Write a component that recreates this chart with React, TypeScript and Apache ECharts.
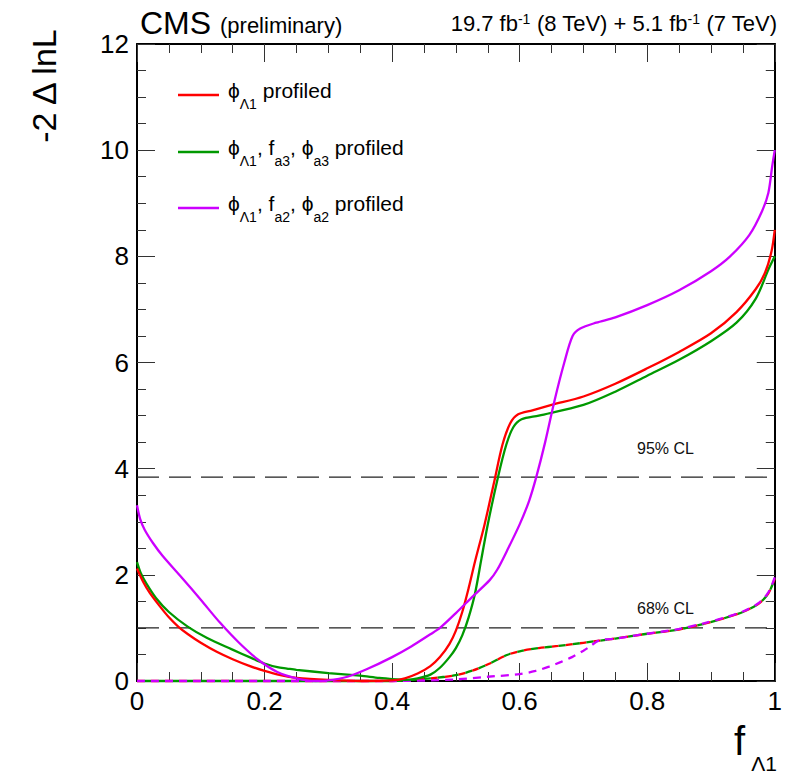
import React, { useEffect, useRef } from 'react';
import * as echarts from 'echarts';

// x = f_Λ1, y = -2 Δ lnL
const redSolid: [number, number][] = [
  [0, 2.12], [0.01, 1.86], [0.02, 1.66], [0.035, 1.42], [0.05, 1.2], [0.065, 1.02], [0.08, 0.88],
  [0.1, 0.72], [0.125, 0.55], [0.15, 0.41], [0.175, 0.29], [0.2, 0.19], [0.225, 0.11], [0.25, 0.06],
  [0.3, 0.02], [0.35, 0.0], [0.4, 0.01], [0.42, 0.05], [0.44, 0.14], [0.46, 0.28], [0.475, 0.45],
  [0.49, 0.7], [0.5, 0.95], [0.51, 1.3], [0.52, 1.75], [0.53, 2.25], [0.545, 2.95], [0.56, 3.75],
  [0.573, 4.45], [0.585, 4.85], [0.597, 5.02], [0.62, 5.1], [0.65, 5.2], [0.7, 5.36], [0.75, 5.6],
  [0.8, 5.89], [0.85, 6.2], [0.9, 6.55], [0.94, 6.95], [0.97, 7.38], [0.985, 7.7], [0.995, 8.1], [1.0, 8.5],
];
const greenSolid: [number, number][] = [
  [0, 2.24], [0.006, 2.03], [0.015, 1.83], [0.03, 1.56], [0.05, 1.3], [0.08, 1.02], [0.11, 0.81],
  [0.148, 0.6], [0.18, 0.43], [0.2, 0.33], [0.22, 0.26], [0.235, 0.235], [0.25, 0.21], [0.3, 0.15],
  [0.35, 0.1], [0.38, 0.06], [0.42, 0.02], [0.44, 0.05], [0.46, 0.12], [0.475, 0.25], [0.49, 0.45],
  [0.5, 0.62], [0.51, 0.86], [0.52, 1.2], [0.53, 1.65], [0.54, 2.3], [0.55, 2.95], [0.566, 3.84],
  [0.579, 4.45], [0.59, 4.78], [0.603, 4.93], [0.63, 5.0], [0.7, 5.2], [0.75, 5.45], [0.8, 5.75],
  [0.85, 6.05], [0.9, 6.4], [0.94, 6.75], [0.97, 7.2], [0.99, 7.75], [1.0, 8.0],
];
const magentaSolid: [number, number][] = [
  [0, 3.31], [0.005, 3.05], [0.012, 2.85], [0.025, 2.6], [0.04, 2.36], [0.07, 1.95], [0.1, 1.53],
  [0.13, 1.1], [0.16, 0.72], [0.19, 0.4], [0.22, 0.17], [0.25, 0.05], [0.28, 0.0], [0.3, 0.01],
  [0.33, 0.08], [0.36, 0.22], [0.4, 0.45], [0.43, 0.65], [0.46, 0.88], [0.475, 1.0], [0.5, 1.28],
  [0.527, 1.6], [0.553, 1.9], [0.565, 2.1], [0.58, 2.45], [0.6, 2.95], [0.615, 3.4], [0.626, 3.84],
  [0.64, 4.5], [0.655, 5.3], [0.67, 6.0], [0.683, 6.5], [0.695, 6.64], [0.72, 6.75], [0.75, 6.85],
  [0.8, 7.08], [0.85, 7.36], [0.9, 7.72], [0.93, 8.0], [0.96, 8.4], [0.98, 8.85], [0.99, 9.2],
  [0.996, 9.7], [1.0, 10.0],
];
const redGreenDashed: [number, number][] = [
  [0, 0], [0.1, 0], [0.2, 0], [0.3, 0], [0.4, 0.0], [0.43, 0.02], [0.46, 0.05], [0.5, 0.11],
  [0.527, 0.2], [0.553, 0.33], [0.58, 0.49], [0.6, 0.56], [0.63, 0.62], [0.66, 0.66], [0.7, 0.72],
  [0.75, 0.8], [0.8, 0.89], [0.85, 0.97], [0.89, 1.08], [0.92, 1.18], [0.95, 1.3], [0.975, 1.46],
  [0.99, 1.65], [1.0, 1.93],
];
const magentaDashed: [number, number][] = [
  [0, 0], [0.1, 0], [0.2, 0], [0.3, 0], [0.4, 0], [0.5, 0.03], [0.55, 0.08], [0.6, 0.13],
  [0.625, 0.19], [0.646, 0.27], [0.665, 0.36], [0.682, 0.45], [0.7, 0.57], [0.709, 0.64],
  [0.724, 0.76], [0.75, 0.8], [0.8, 0.89], [0.85, 0.98], [0.89, 1.09], [0.92, 1.19], [0.95, 1.31],
  [0.975, 1.47], [0.99, 1.67], [1.0, 1.95],
];
const clLevels = [3.84, 1.0];
const clLabels = ['95% CL', '68% CL'];

const RED = '#ff0000';
const GREEN = '#009900';
const MAGENTA = '#cc00ff';
const FONT = "'Liberation Sans', Arial, Helvetica, sans-serif";

export default function App() {
  const ref = useRef<HTMLDivElement>(null);
  useEffect(() => {
    const chart = echarts.init(ref.current!, null, { renderer: 'svg' });

    const axisCommon = (show: boolean, margin: number) => ({
      axisLine: { show: true, onZero: false, lineStyle: { color: '#000', width: 2 } },
      axisTick: { show: true, inside: true, length: 18, lineStyle: { color: '#333', width: 1 } },
      minorTick: { show: true, splitNumber: 4, length: 9, lineStyle: { color: '#333', width: 1 } },
      splitLine: { show: false },
      minorSplitLine: { show: false },
      axisLabel: { show, fontSize: 26, color: '#000', fontFamily: FONT, margin },
    });

    const curve = (name: string, data: [number, number][], color: string, z: number, dash?: any, offset?: number) => ({
      type: 'line',
      name,
      data,
      symbol: 'none',
      smooth: 0.3,
      clip: false,
      z,
      lineStyle: { color, width: 2.3, type: dash || 'solid', dashOffset: offset || 0 },
    });

    const refLine = (lv: number) => ({
      type: 'line',
      data: [[0, lv], [1, lv]],
      symbol: 'none',
      z: 1,
      lineStyle: { color: '#222', width: 1.2, type: [22, 10] },
    });

    const m = { fontSize: 21, lineHeight: 24, verticalAlign: 'top', fontFamily: FONT, fill: '#000' };
    const s = { fontSize: 14, lineHeight: 14, padding: [17, 0, 0, 0], verticalAlign: 'top', fontFamily: FONT, fill: '#000' };

    const legendRows = [
      { color: RED, text: '{m|ϕ}{s|Λ1}{m| profiled}' },
      { color: GREEN, text: '{m|ϕ}{s|Λ1}{m|, f}{s|a3}{m|, ϕ}{s|a3}{m| profiled}' },
      { color: MAGENTA, text: '{m|ϕ}{s|Λ1}{m|, f}{s|a2}{m|, ϕ}{s|a2}{m| profiled}' },
    ];
    const rowY = [95, 152, 208];

    const graphics: any[] = [];
    legendRows.forEach((r, i) => {
      graphics.push({
        type: 'line',
        shape: { x1: 178, y1: rowY[i], x2: 219, y2: rowY[i] },
        style: { stroke: r.color, lineWidth: 2.3 },
      });
      graphics.push({
        type: 'text',
        x: 228,
        y: rowY[i] - 15,
        style: { text: r.text, rich: { m, s }, align: 'left', verticalAlign: 'top' },
      });
    });

    graphics.push(
      { type: 'text', x: 140, y: 23, style: { text: 'CMS', fontSize: 32, fontFamily: FONT, fill: '#000', align: 'left', verticalAlign: 'middle' } },
      { type: 'text', x: 220, y: 25, style: { text: '(preliminary)', fontSize: 22, fontFamily: FONT, fill: '#000', align: 'left', verticalAlign: 'middle' } },
      {
        type: 'text', x: 777, y: 12,
        style: {
          text: '{m|19.7 fb}{p|-1}{m| (8 TeV) + 5.1 fb}{p|-1}{m| (7 TeV)}',
          align: 'right', verticalAlign: 'top',
          rich: {
            m: { fontSize: 22, lineHeight: 26, verticalAlign: 'top', fontFamily: FONT, fill: '#000' },
            p: { fontSize: 14, lineHeight: 14, verticalAlign: 'top', fontFamily: FONT, fill: '#000' },
          },
        },
      },
      { type: 'text', x: 44, y: 86, rotation: Math.PI / 2, style: { text: '-2 Δ lnL', fontSize: 34, fontFamily: FONT, fill: '#000', align: 'center', verticalAlign: 'middle' } },
      { type: 'text', x: 745, y: 741, style: { text: 'f', fontSize: 40, fontFamily: FONT, fill: '#000', align: 'right', verticalAlign: 'middle' } },
      { type: 'text', x: 777, y: 763, style: { text: 'Λ1', fontSize: 21, fontFamily: FONT, fill: '#000', align: 'right', verticalAlign: 'middle' } },
      { type: 'text', x: 637, y: 448, style: { text: clLabels[0], fontSize: 16, fontFamily: FONT, fill: '#111', align: 'left', verticalAlign: 'middle' } },
      { type: 'text', x: 637, y: 608, style: { text: clLabels[1], fontSize: 16, fontFamily: FONT, fill: '#111', align: 'left', verticalAlign: 'middle' } },
    );

    chart.setOption({
      animation: false,
      backgroundColor: '#fff',
      grid: { left: 137, right: 8, top: 44, bottom: 96, containLabel: false },
      xAxis: [
        { type: 'value', min: 0, max: 1, interval: 0.2, position: 'bottom', ...axisCommon(true, 7) },
        { type: 'value', min: 0, max: 1, interval: 0.2, position: 'top', ...axisCommon(false, 7) },
      ],
      yAxis: [
        { type: 'value', min: 0, max: 12, interval: 2, position: 'left', ...axisCommon(true, 8) },
        { type: 'value', min: 0, max: 12, interval: 2, position: 'right', ...axisCommon(false, 8) },
      ],
      series: [
        refLine(clLevels[0]),
        refLine(clLevels[1]),
        curve('red dashed', redGreenDashed, RED, 3, [7, 7], 0),
        curve('green dashed', redGreenDashed, GREEN, 3, [7, 7], 7),
        curve('magenta dashed', magentaDashed, MAGENTA, 4, [8, 6], 0),
        curve('green', greenSolid, GREEN, 5),
        curve('red', redSolid, RED, 6),
        curve('magenta', magentaSolid, MAGENTA, 7),
      ],
      graphic: graphics,
    });
    return () => chart.dispose();
  }, []);
  return <div ref={ref} style={{ position: 'absolute', left: 0, top: 0, width: 785, height: 777 }} />;
}
